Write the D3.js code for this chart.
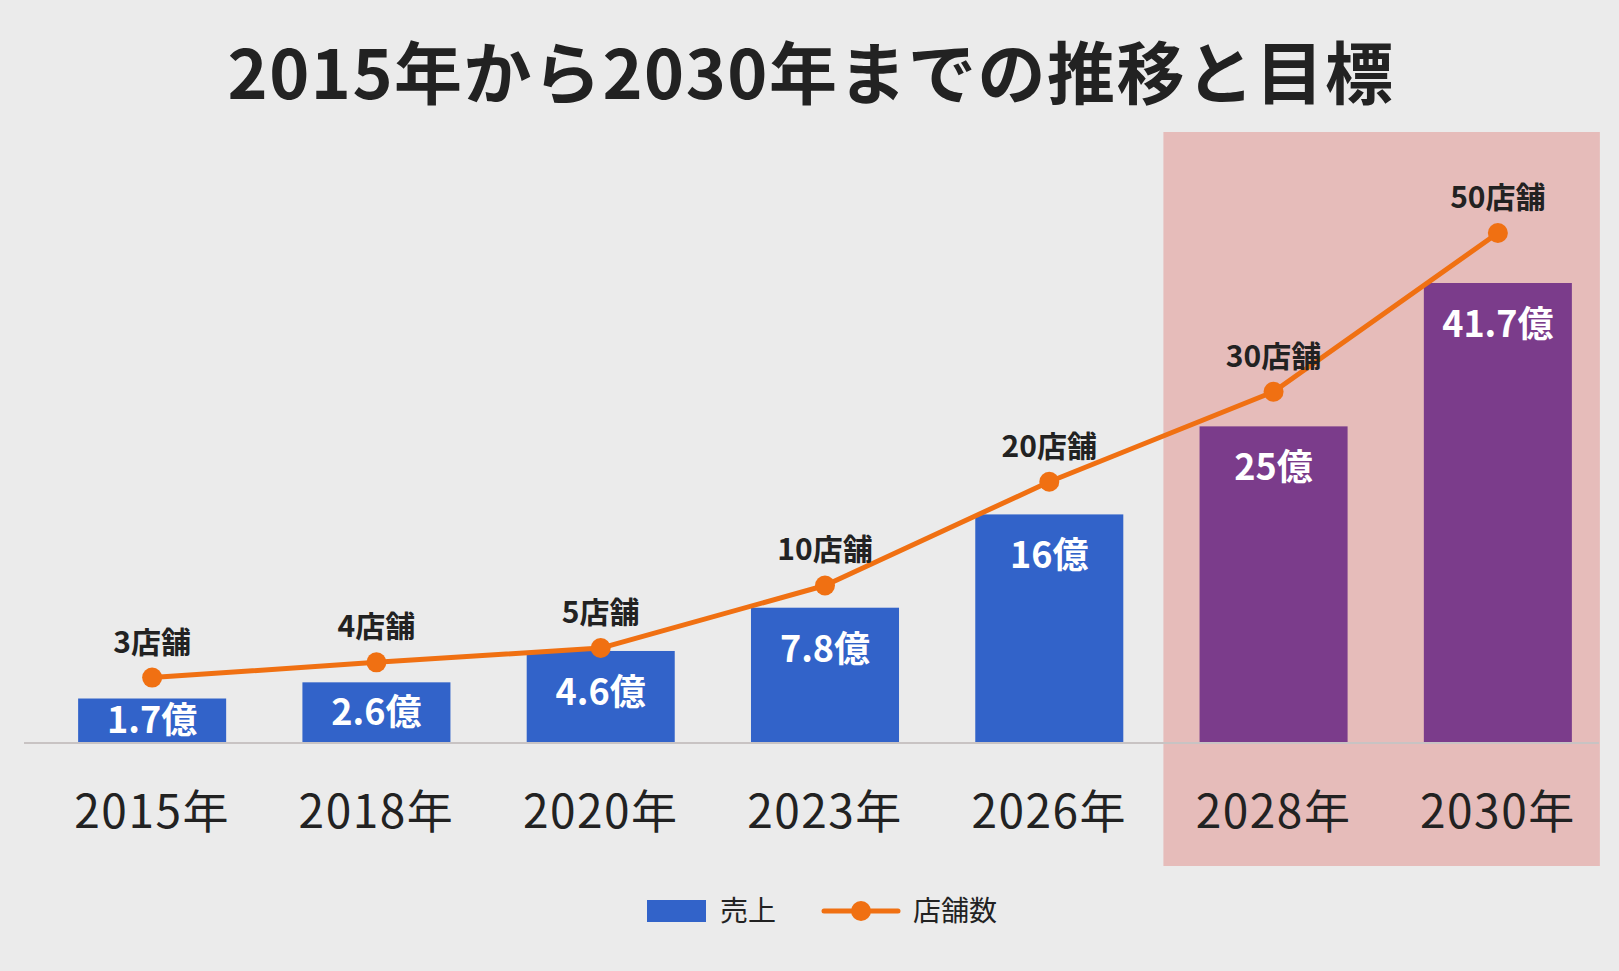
<!DOCTYPE html>
<html>
<head>
<meta charset="utf-8">
<script src="https://cdn.jsdelivr.net/npm/d3@7"></script>
<style>
  html, body { margin: 0; padding: 0; background: #ebebeb; }
  #chart { width: 1619px; height: 971px; }
  text { font-family: "Noto Sans CJK JP", "Noto Sans", sans-serif; }
</style>
</head>
<body>
<div id="chart"></div>
<script>
const years = ["2015年", "2018年", "2020年", "2023年", "2026年", "2028年", "2030年"];
const sales = [1.7, 2.6, 4.6, 7.8, 16, 25, 41.7];        // 売上 (億)
const stores = [3, 4, 5, 10, 20, 30, 50];                // 店舗数
const targetYears = ["2028年", "2030年"];                // 目標 (highlighted)

const title = "2015年から2030年までの推移と目標";

function draw() {
  const w = 1619, h = 971;
  const baseY = 743;

  const svg = d3.select("#chart")
    .append("svg")
    .attr("width", w)
    .attr("height", h)
    .attr("viewBox", `0 0 ${w} ${h}`);

  svg.append("rect")
    .attr("width", w)
    .attr("height", h)
    .attr("fill", "#ebebeb");

  const x = d3.scaleBand()
    .domain(years)
    .range([40, 1610])
    .paddingInner(0.34)
    .paddingOuter(0.17);

  // heights in the picture grow slower than the values, so a power scale is used
  const ySales = d3.scalePow().exponent(0.73)
    .domain([0, 41.7])
    .range([baseY, 283]);

  const yStores = d3.scalePow().exponent(0.73)
    .domain([0, 50])
    .range([baseY, 233]);

  const cx = d => x(d) + x.bandwidth() / 2;

  // highlight box for target years
  const gap = x.step() - x.bandwidth();
  const boxL = x(targetYears[0]) - gap / 2 + 2;
  const boxR = x(targetYears[targetYears.length - 1]) + x.bandwidth() + 28;
  svg.append("rect")
    .attr("x", boxL)
    .attr("y", 132)
    .attr("width", boxR - boxL)
    .attr("height", 866 - 132)
    .attr("fill", "#e6bcba");

  // title
  svg.append("text")
    .attr("x", 811)
    .attr("y", 99)
    .attr("text-anchor", "middle")
    .attr("font-size", 68)
    .attr("font-weight", 700)
    .attr("letter-spacing", 1.5)
    .attr("fill", "#222")
    .text(title);

  const data = years.map((yr, i) => ({ yr, sales: sales[i], stores: stores[i] }));

  // bars
  svg.append("g")
    .selectAll("rect")
    .data(data)
    .join("rect")
    .attr("x", d => x(d.yr))
    .attr("y", d => ySales(d.sales))
    .attr("width", x.bandwidth())
    .attr("height", d => baseY - ySales(d.sales))
    .attr("fill", d => targetYears.includes(d.yr) ? "#7b3c8b" : "#3263c9");

  // baseline
  svg.append("line")
    .attr("x1", 24)
    .attr("x2", 1599)
    .attr("y1", baseY)
    .attr("y2", baseY)
    .attr("stroke", "#c8c3c3")
    .attr("stroke-width", 2);

  // bar value labels
  svg.append("g")
    .selectAll("text")
    .data(data)
    .join("text")
    .attr("x", d => cx(d.yr))
    .attr("y", d => {
      const top = ySales(d.sales);
      return Math.min(top + 54, (top + baseY) / 2 + 12);
    })
    .attr("text-anchor", "middle")
    .attr("font-size", 36)
    .attr("font-weight", 700)
    .attr("fill", "#fff")
    .text(d => `${d.sales}億`);

  // year axis
  const axis = svg.append("g")
    .attr("transform", `translate(0, ${baseY})`)
    .call(d3.axisBottom(x).tickSize(0).tickPadding(0));
  axis.select(".domain").remove();
  axis.selectAll("text")
    .attr("y", 85)
    .attr("dy", 0)
    .attr("font-size", 46)
    .attr("letter-spacing", 1.5)
    .attr("fill", "#222")
    .style("font-family", '"Noto Sans CJK JP", sans-serif');

  // store line
  const line = d3.line()
    .x(d => cx(d.yr))
    .y(d => yStores(d.stores));

  svg.append("path")
    .datum(data)
    .attr("d", line)
    .attr("fill", "none")
    .attr("stroke", "#f07012")
    .attr("stroke-width", 5)
    .attr("stroke-linejoin", "round");

  svg.append("g")
    .selectAll("circle")
    .data(data)
    .join("circle")
    .attr("cx", d => cx(d.yr))
    .attr("cy", d => yStores(d.stores))
    .attr("r", 10)
    .attr("fill", "#f07012");

  svg.append("g")
    .selectAll("text")
    .data(data)
    .join("text")
    .attr("x", d => cx(d.yr))
    .attr("y", d => yStores(d.stores) - 25)
    .attr("text-anchor", "middle")
    .attr("font-size", 30)
    .attr("font-weight", 700)
    .attr("fill", "#222")
    .text(d => `${d.stores}店舗`);

  // legend
  const lg = svg.append("g");
  lg.append("rect")
    .attr("x", 647).attr("y", 900)
    .attr("width", 59).attr("height", 22)
    .attr("fill", "#3263c9");
  lg.append("text")
    .attr("x", 720).attr("y", 921)
    .attr("font-size", 28)
    .attr("fill", "#222")
    .text("売上");
  lg.append("line")
    .attr("x1", 824).attr("x2", 898)
    .attr("y1", 911).attr("y2", 911)
    .attr("stroke", "#f07012")
    .attr("stroke-width", 5)
    .attr("stroke-linecap", "round");
  lg.append("circle")
    .attr("cx", 861).attr("cy", 911)
    .attr("r", 10)
    .attr("fill", "#f07012");
  lg.append("text")
    .attr("x", 913).attr("y", 921)
    .attr("font-size", 28)
    .attr("fill", "#222")
    .text("店舗数");
}

draw();
</script>
</body>
</html>
